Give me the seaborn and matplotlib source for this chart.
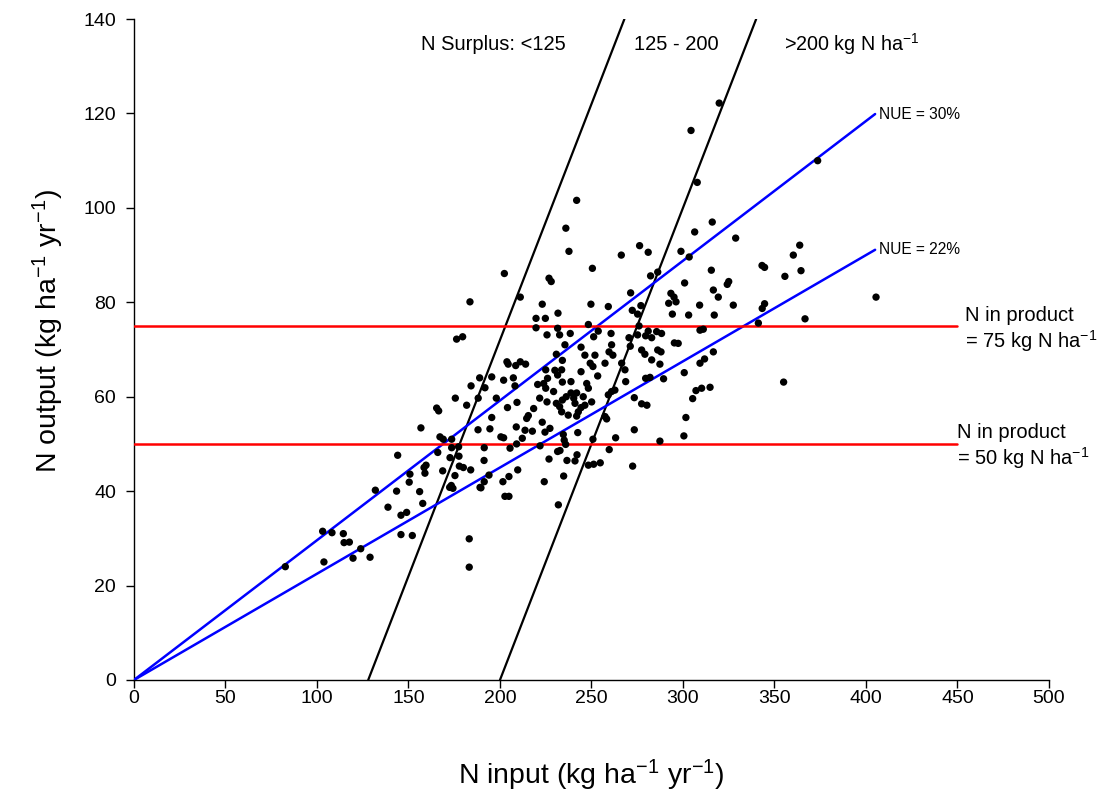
import matplotlib
matplotlib.use("Agg")
import matplotlib.pyplot as plt
import seaborn as sns
import numpy as np
import pandas as pd

# ---- data ----
n_input = [
    241.9, 236.0, 237.7, 266.3, 276.3, 281.0, 298.9,
    319.8, 304.4, 307.8, 316.0, 306.4, 328.8, 373.6, 363.8, 360.3, 303.4,
    183.6, 176.3, 179.6, 184.2, 175.6, 181.8, 165.4, 166.5,
    202.4, 250.5, 226.8, 228.0, 211.1, 223.1, 249.7, 259.2, 271.4, 282.3,
    286.2, 293.4, 295.1, 296.2, 292.2, 294.2, 272.3, 277.0, 275.2, 219.7,
    224.8, 231.7, 219.7, 225.7, 231.5, 232.6, 238.4, 248.3, 253.7, 251.2,
    260.7, 276.0, 270.5, 275.2, 279.6, 281.0, 285.6, 288.3, 282.9, 235.5,
    244.3, 230.8, 246.4, 251.9, 234.1, 261.0, 259.6, 261.7, 271.2, 277.4,
    279.2, 286.2, 288.0, 282.9, 287.4, 295.3, 297.4, 257.4, 249.3, 250.8,
    266.5, 268.3, 203.8, 204.5, 208.6, 211.1, 214.0, 225.0, 226.0, 230.0,
    233.7, 231.5, 244.3, 253.4, 188.9, 195.5, 202.0, 207.3, 208.2, 220.6,
    223.9, 225.0, 229.3, 234.1, 238.8, 247.4, 248.3, 241.9, 238.8, 234.1,
    236.2, 240.3, 241.0, 244.3, 246.4, 250.1, 245.5, 221.7, 225.7, 230.8,
    232.6, 233.7, 237.3, 242.8, 218.4, 204.1, 209.3, 198.0, 191.8, 188.1,
    262.8, 261.0, 259.2, 268.7, 273.4, 277.4, 280.3, 279.6, 282.0, 289.4,
    315.5, 300.9, 343.2, 344.6, 364.5, 355.7, 325.0, 324.2, 316.6, 319.3,
    309.1, 327.5, 303.1, 317.1, 344.6, 343.3, 405.5, 366.7, 341.2, 309.3,
    311.1, 316.6, 309.3, 311.8, 300.7, 355.0, 307.1, 310.2, 314.8, 305.3,
    301.6, 300.5,
    156.8, 167.2, 169.0, 173.6, 173.6, 177.4, 188.0, 144.1, 166.0, 172.7,
    177.6, 159.6, 158.5, 150.8, 150.4, 159.0, 168.7, 177.8, 180.0, 184.0,
    175.4, 173.4, 174.3, 172.5, 189.1, 131.9, 143.5, 156.1, 157.8, 138.8,
    145.9, 149.0, 145.9, 152.1, 183.2, 183.2, 103.1, 108.2, 114.4, 114.8,
    117.7, 123.9, 103.8, 119.7, 129.0, 82.7,
    195.5, 214.6, 215.5, 223.1, 241.9, 194.5, 208.9, 213.7, 217.7, 224.6,
    227.3, 234.6, 235.1, 235.9, 242.5, 257.4, 258.3, 250.8, 273.4, 263.2,
    287.4, 200.5, 202.0, 212.2, 209.1, 191.4, 205.5, 221.9, 231.5, 232.8,
    226.8, 236.6, 241.0, 242.1, 259.7, 248.3, 251.2, 254.8, 272.5, 191.3,
    194.0, 191.4, 204.9, 201.6, 209.7, 224.2, 234.8, 202.7, 204.9, 231.9,
    189.6,
]
n_output = [
    101.6, 95.7, 90.8, 90.0, 92.0, 90.6, 90.8,
    122.2, 116.4, 105.4, 97.0, 94.9, 93.6, 110.0, 92.1, 90.0, 89.6,
    80.1, 72.2, 72.7, 62.3, 59.7, 58.2, 57.6, 57.0,
    86.1, 87.2, 85.1, 84.4, 81.1, 79.6, 79.6, 79.1, 82.0, 85.6,
    86.4, 81.9, 81.1, 80.1, 79.8, 77.5, 78.3, 79.3, 77.5, 76.6,
    76.6, 77.7, 74.6, 73.1, 74.5, 73.1, 73.4, 75.3, 73.9, 72.7,
    73.4, 75.0, 72.5, 73.1, 72.9, 73.9, 73.8, 73.4, 72.5, 71.0,
    70.5, 69.0, 68.8, 68.8, 67.7, 71.0, 69.5, 68.8, 70.7, 69.9,
    69.0, 69.9, 69.5, 67.8, 66.9, 71.4, 71.3, 67.1, 67.1, 66.4,
    67.1, 65.7, 67.4, 66.9, 66.6, 67.4, 66.9, 65.7, 63.9, 65.6,
    65.7, 64.6, 65.3, 64.4, 64.0, 64.2, 63.5, 64.0, 62.3, 62.6,
    62.8, 61.8, 61.1, 63.1, 63.2, 62.8, 61.8, 60.8, 60.8, 59.3,
    60.0, 59.7, 58.6, 57.7, 58.2, 58.9, 60.0, 59.7, 58.9, 58.6,
    57.9, 56.8, 56.1, 56.8, 57.5, 57.7, 58.8, 59.7, 61.9, 59.7,
    61.4, 61.1, 60.4, 63.2, 59.8, 58.5, 58.2, 63.9, 64.1, 63.8,
    86.8, 84.1, 87.8, 87.4, 86.7, 85.5, 84.4, 83.8, 82.6, 81.1,
    79.4, 79.4, 77.3, 77.3, 79.7, 78.7, 81.1, 76.5, 75.6, 74.1,
    74.3, 69.5, 67.1, 68.0, 65.1, 63.1, 61.3, 61.8, 62.0, 59.6,
    55.6, 51.7,
    53.4, 51.5, 51.0, 51.0, 49.2, 49.4, 53.0, 47.6, 48.2, 47.1,
    47.4, 45.5, 45.0, 43.6, 41.9, 43.8, 44.3, 45.3, 45.0, 44.5,
    43.3, 41.2, 40.6, 40.8, 40.8, 40.2, 40.0, 39.9, 37.4, 36.6,
    34.9, 35.5, 30.8, 30.6, 29.9, 23.9, 31.5, 31.2, 31.0, 29.1,
    29.2, 27.8, 25.0, 25.8, 26.0, 24.0,
    55.6, 55.4, 56.0, 54.6, 55.9, 53.2, 53.6, 52.9, 52.7, 52.5,
    53.3, 52.0, 50.8, 49.9, 52.4, 55.8, 55.3, 51.0, 53.0, 51.3,
    50.6, 51.5, 51.3, 51.2, 50.0, 49.2, 49.1, 49.6, 48.4, 48.6,
    46.8, 46.5, 46.4, 47.7, 48.8, 45.5, 45.7, 46.0, 45.3, 46.5,
    43.4, 42.0, 43.1, 42.0, 44.5, 42.0, 43.2, 38.9, 38.9, 37.1,
    40.7,
]

nue_values = [0.296, 0.225]           # NUE reference lines (fraction)
nue_labels = ["NUE = 30%", "NUE = 22%"]
nue_xmax = 405
surplus_values = [128, 200]           # N surplus boundary lines (input - output)
product_values = [75, 50]             # N in product lines
product_xmax = 450
x_ticks = [0, 50, 100, 150, 200, 250, 300, 350, 400, 450, 500]
y_ticks = [0, 20, 40, 60, 80, 100, 120, 140]

df = pd.DataFrame({"N input": n_input, "N output": n_output})

# ---- style ----
sns.set_style("ticks")
plt.rcParams["font.family"] = ["Liberation Sans", "DejaVu Sans"]
plt.rcParams["mathtext.fontset"] = "custom"
plt.rcParams["mathtext.rm"] = "Liberation Sans"
plt.rcParams["mathtext.it"] = "Liberation Sans:italic"
plt.rcParams["mathtext.default"] = "regular"
for key in ["text.color", "axes.labelcolor", "xtick.color", "ytick.color", "axes.edgecolor"]:
    plt.rcParams[key] = "black"

fig = plt.figure(figsize=(11, 7.94), dpi=100)
ax = fig.add_axes([0.1218, 0.1436, 0.8318, 0.8324])

# surplus lines
for s in surplus_values:
    xs = np.array([s, s + 140])
    ax.plot(xs, xs - s, color="black", lw=1.6, zorder=2)

# NUE lines
for k, lab in zip(nue_values, nue_labels):
    xs = np.array([0, nue_xmax])
    ax.plot(xs, k * xs, color="#0000ff", lw=1.8, zorder=3)
    ax.text(nue_xmax + 2, k * nue_xmax, lab, fontsize=11.2, va="center", ha="left")

# product lines
for p in product_values:
    ax.plot([0, product_xmax], [p, p], color="#ff0000", lw=1.8, zorder=3)

ax.text(product_xmax + 4, 75 - 0.8, "N in product\n= 75 kg N ha$^{-1}$",
        fontsize=14.5, va="center", ha="left", linespacing=1.15)
ax.text(product_xmax, 50 - 0.6, "N in product\n= 50 kg N ha$^{-1}$",
        fontsize=14.5, va="center", ha="left", linespacing=1.15)

sns.scatterplot(data=df, x="N input", y="N output", color="black", s=28,
                edgecolor="none", ax=ax, zorder=4)

# surplus labels
ax.text(196.2, 134.7, "N Surplus: <125", fontsize=14.5, ha="center", va="center")
ax.text(296.4, 134.7, "125 - 200", fontsize=14.5, ha="center", va="center")
ax.text(355.2, 134.7, ">200 kg N ha$^{-1}$", fontsize=14.2, ha="left", va="center")

ax.set_xlim(0, 500)
ax.set_ylim(0, 140)
ax.set_xticks(x_ticks)
ax.set_yticks(y_ticks)
ax.tick_params(labelsize=14, length=6, width=1, direction="out")
ax.tick_params(axis="x", pad=1.0)
ax.tick_params(axis="y", pad=7.0)
ax.set_xlabel("N input (kg ha$^{-1}$ yr$^{-1}$)", fontsize=20.5, labelpad=37)
ax.set_ylabel("N output (kg ha$^{-1}$ yr$^{-1}$)", fontsize=20.5)
ax.yaxis.set_label_coords(-0.074, 0.528)
sns.despine(ax=ax)
for sp in ["left", "bottom"]:
    ax.spines[sp].set_linewidth(1.0)
    ax.spines[sp].set_color("black")

fig.savefig("out.png", dpi=100)
